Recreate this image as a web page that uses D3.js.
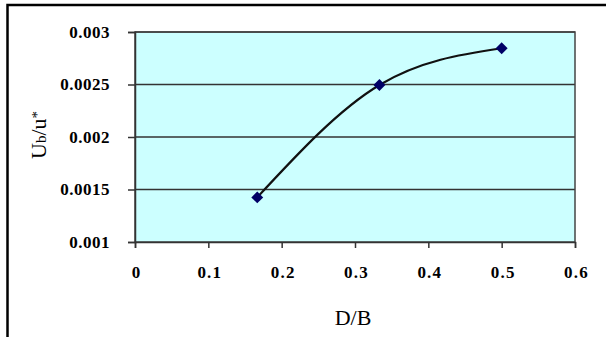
<!DOCTYPE html>
<html><head><meta charset="utf-8">
<script src="https://cdn.jsdelivr.net/npm/d3@7"></script>
<style>body{margin:0;background:#fff}svg{display:block}</style>
</head><body>
<svg id="c" width="606" height="337"></svg>
<script>
const xValues = [0.1667, 0.3333, 0.5];
const yValues = [0.001425, 0.002495, 0.002845];
const xTicks = [0, 0.1, 0.2, 0.3, 0.4, 0.5, 0.6];
const yTicks = [0.001, 0.0015, 0.002, 0.0025, 0.003];
const xTitle = "D/B";

const svg = d3.select("#c");
const L = 135, R = 575, T = 32, B = 242;
const x = d3.scaleLinear().domain([0, 0.6]).range([L, R]);
const y = d3.scaleLinear().domain([0.001, 0.003]).range([B, T]);

// outer chart border (cut off at right/bottom)
svg.append("rect").attr("x", 7.5).attr("y", 5).attr("width", 620).attr("height", 350)
  .attr("fill", "#fff").attr("stroke", "#000").attr("stroke-width", 2.5);

// plot background
svg.append("rect").attr("x", L).attr("y", T).attr("width", R - L).attr("height", B - T)
  .attr("fill", "#ccffff");

// gridlines
svg.append("g").selectAll("line").data(yTicks.slice(1)).join("line")
  .attr("x1", L).attr("x2", R).attr("y1", d => y(d)).attr("y2", d => y(d))
  .attr("stroke", "#333").attr("stroke-width", 1.5);

// plot border
svg.append("rect").attr("x", L).attr("y", T).attr("width", R - L).attr("height", B - T)
  .attr("fill", "none").attr("stroke", "#444").attr("stroke-width", 1.5);

const font = "'Liberation Serif','Times New Roman',serif";

// x axis
const xAxis = svg.append("g").attr("transform", `translate(0,${B})`)
  .call(d3.axisBottom(x).tickValues(xTicks).tickSize(6).tickPadding(18)
    .tickFormat(d => d === 0 ? "0" : d3.format(".1f")(d)));
xAxis.attr("font-family", null).attr("font-size", null);
xAxis.select(".domain").attr("stroke", "#333").attr("stroke-width", 1.5);
xAxis.selectAll(".tick line").attr("stroke", "#333").attr("stroke-width", 1.5);
xAxis.selectAll("text").style("font-family", font).style("font-weight", "bold")
  .style("font-size", "17px").attr("fill", "#000").style("letter-spacing", "1.2px")
  .attr("dx", 1);

// y axis
const yAxis = svg.append("g").attr("transform", `translate(${L},0)`)
  .call(d3.axisLeft(y).tickValues(yTicks).tickSize(7).tickPadding(18)
    .tickFormat(d => String(+d.toFixed(4))));
yAxis.attr("font-family", null).attr("font-size", null);
yAxis.select(".domain").attr("stroke", "#333").attr("stroke-width", 1.5);
yAxis.selectAll(".tick line").attr("stroke", "#333").attr("stroke-width", 1.5);
yAxis.selectAll("text").style("font-family", font).style("font-weight", "bold")
  .style("font-size", "17px").attr("fill", "#000").style("letter-spacing", "0.5px");

// titles
svg.append("text").attr("x", 353).attr("y", 325).attr("text-anchor", "middle")
  .style("font-family", font).style("font-size", "22px").attr("fill", "#000").text(xTitle);

const yt = svg.append("text").attr("transform", "translate(46,135) rotate(-90)")
  .attr("text-anchor", "middle").style("font-family", font).style("font-size", "22px").attr("fill", "#000");
yt.append("tspan").text("U");
yt.append("tspan").style("font-size", "15px").text("b");
yt.append("tspan").text("/u");
yt.append("tspan").style("font-size", "15px").attr("dy", -4).text("*");

// curve
const pts = xValues.map((v, i) => [v, yValues[i]]);
svg.append("path").datum(pts)
  .attr("d", d3.line().x(d => x(d[0])).y(d => y(d[1])).curve(d3.curveMonotoneX))
  .attr("fill", "none").attr("stroke", "#111").attr("stroke-width", 2.2);

// markers
svg.append("g").selectAll("path").data(pts).join("path")
  .attr("transform", d => `translate(${x(d[0])},${y(d[1])})`)
  .attr("d", d3.symbol(d3.symbolDiamond2, 90)())
  .attr("fill", "#000066");
</script>
</body></html>
